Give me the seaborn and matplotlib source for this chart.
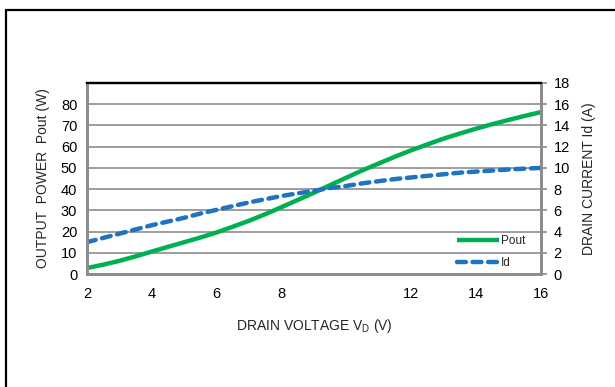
import matplotlib
matplotlib.use("Agg")
import matplotlib.pyplot as plt
import seaborn as sns
import pandas as pd
from matplotlib.patches import Rectangle

sns.set_theme(style="white")
plt.rcParams['font.family'] = ['Liberation Sans', 'DejaVu Sans']

vd = [2, 2.5, 3, 3.5, 4, 4.5, 5, 5.5, 6, 6.5, 7, 7.5, 8, 8.5, 9, 9.5, 10,
      10.5, 11, 11.5, 12, 12.5, 13, 13.5, 14, 14.5, 15, 15.5, 16]
pout = [2.8, 4.4, 6.2, 8.3, 10.6, 12.8, 15.0, 17.2, 19.6, 22.3, 25.1, 28.2, 31.5, 34.9, 38.3,
        41.9, 45.4, 48.9, 52.1, 55.3, 58.3, 61.1, 63.8, 66.2, 68.5, 70.6, 72.6, 74.5, 76.3]
idrain = [3.0, 3.4, 3.8, 4.2, 4.6, 4.95, 5.3, 5.7, 6.05, 6.4, 6.75, 7.05, 7.35, 7.6, 7.85,
          8.1, 8.3, 8.55, 8.75, 8.95, 9.1, 9.25, 9.4, 9.55, 9.65, 9.75, 9.85, 9.93, 10.0]
xticks = [2, 4, 6, 8, 12, 14, 16]
left_ticks = [0, 10, 20, 30, 40, 50, 60, 70, 80]
right_ticks = [0, 2, 4, 6, 8, 10, 12, 14, 16, 18]

df = pd.DataFrame({"vd": vd, "pout": pout, "id": idrain})

fig = plt.figure(figsize=(6.15, 3.87), dpi=100)
fig.patch.set_facecolor("white")
fig.patches.append(Rectangle((6/615, -0.05), 1.1, 1 - 10/387 + 0.05, transform=fig.transFigure,
                             fill=False, edgecolor="black", linewidth=1.6, zorder=0))

ax = fig.add_axes([87/615, 1 - 274/387, (541 - 87)/615, (274 - 83)/387])
ax2 = ax.twinx()

green = "#00B050"
blue = "#1F73C0"
grid = "#8C8C8C"

sns.lineplot(data=df, x="vd", y="pout", ax=ax, color=green, linewidth=3.2,
             label="Pout", legend=False, solid_capstyle="butt")
sns.lineplot(data=df, x="vd", y="id", ax=ax2, color=blue, linewidth=3.2,
             label="Id", legend=False, dashes=False)
l = ax2.get_lines()[0]
l.set_dashes((2.0, 1.5))
l.set_dash_capstyle("round")

ax.set_xlim(2, 16)
ax.set_ylim(0, 90)
ax2.set_ylim(0, 18)
ax.set_xticks(xticks)
ax.set_yticks(left_ticks)
ax2.set_yticks(right_ticks)
for y in range(10, 90, 10):
    ax.axhline(y, color=grid, linewidth=1.2, zorder=0)

ax.tick_params(axis="x", labelsize=10.5, colors="black", length=0, pad=9)
ax.tick_params(axis="y", labelsize=10.5, colors="black", length=0, pad=7)
ax2.tick_params(axis="y", labelsize=10.5, colors="black", length=4, width=1.2, pad=5)
ax2.tick_params(axis="y", color=grid)

for a in (ax, ax2):
    a.spines["top"].set_color("black")
    a.spines["top"].set_linewidth(1.6)
    for s in ("left", "right", "bottom"):
        a.spines[s].set_color(grid)
        a.spines[s].set_linewidth(2)
ax.set_xlabel("DRAIN VOLTAGE V$_\\mathregular{D}$ (V)", fontsize=10, labelpad=12)
ax.set_ylabel("OUTPUT  POWER  Pout (W)", fontsize=10, labelpad=8)
ax2.set_ylabel("DRAIN CURRENT Id (A)", fontsize=10, labelpad=9)

h1, l1 = ax.get_legend_handles_labels()
h2, l2 = ax2.get_legend_handles_labels()
leg = ax2.legend(h1 + h2, l1 + l2, loc="lower right", frameon=False, fontsize=8.5,
                 handlelength=3.6, handletextpad=0.1, labelspacing=0.9,
                 borderaxespad=0.0, bbox_to_anchor=(0.975, 0.0))

fig.savefig("out.png", dpi=100)
